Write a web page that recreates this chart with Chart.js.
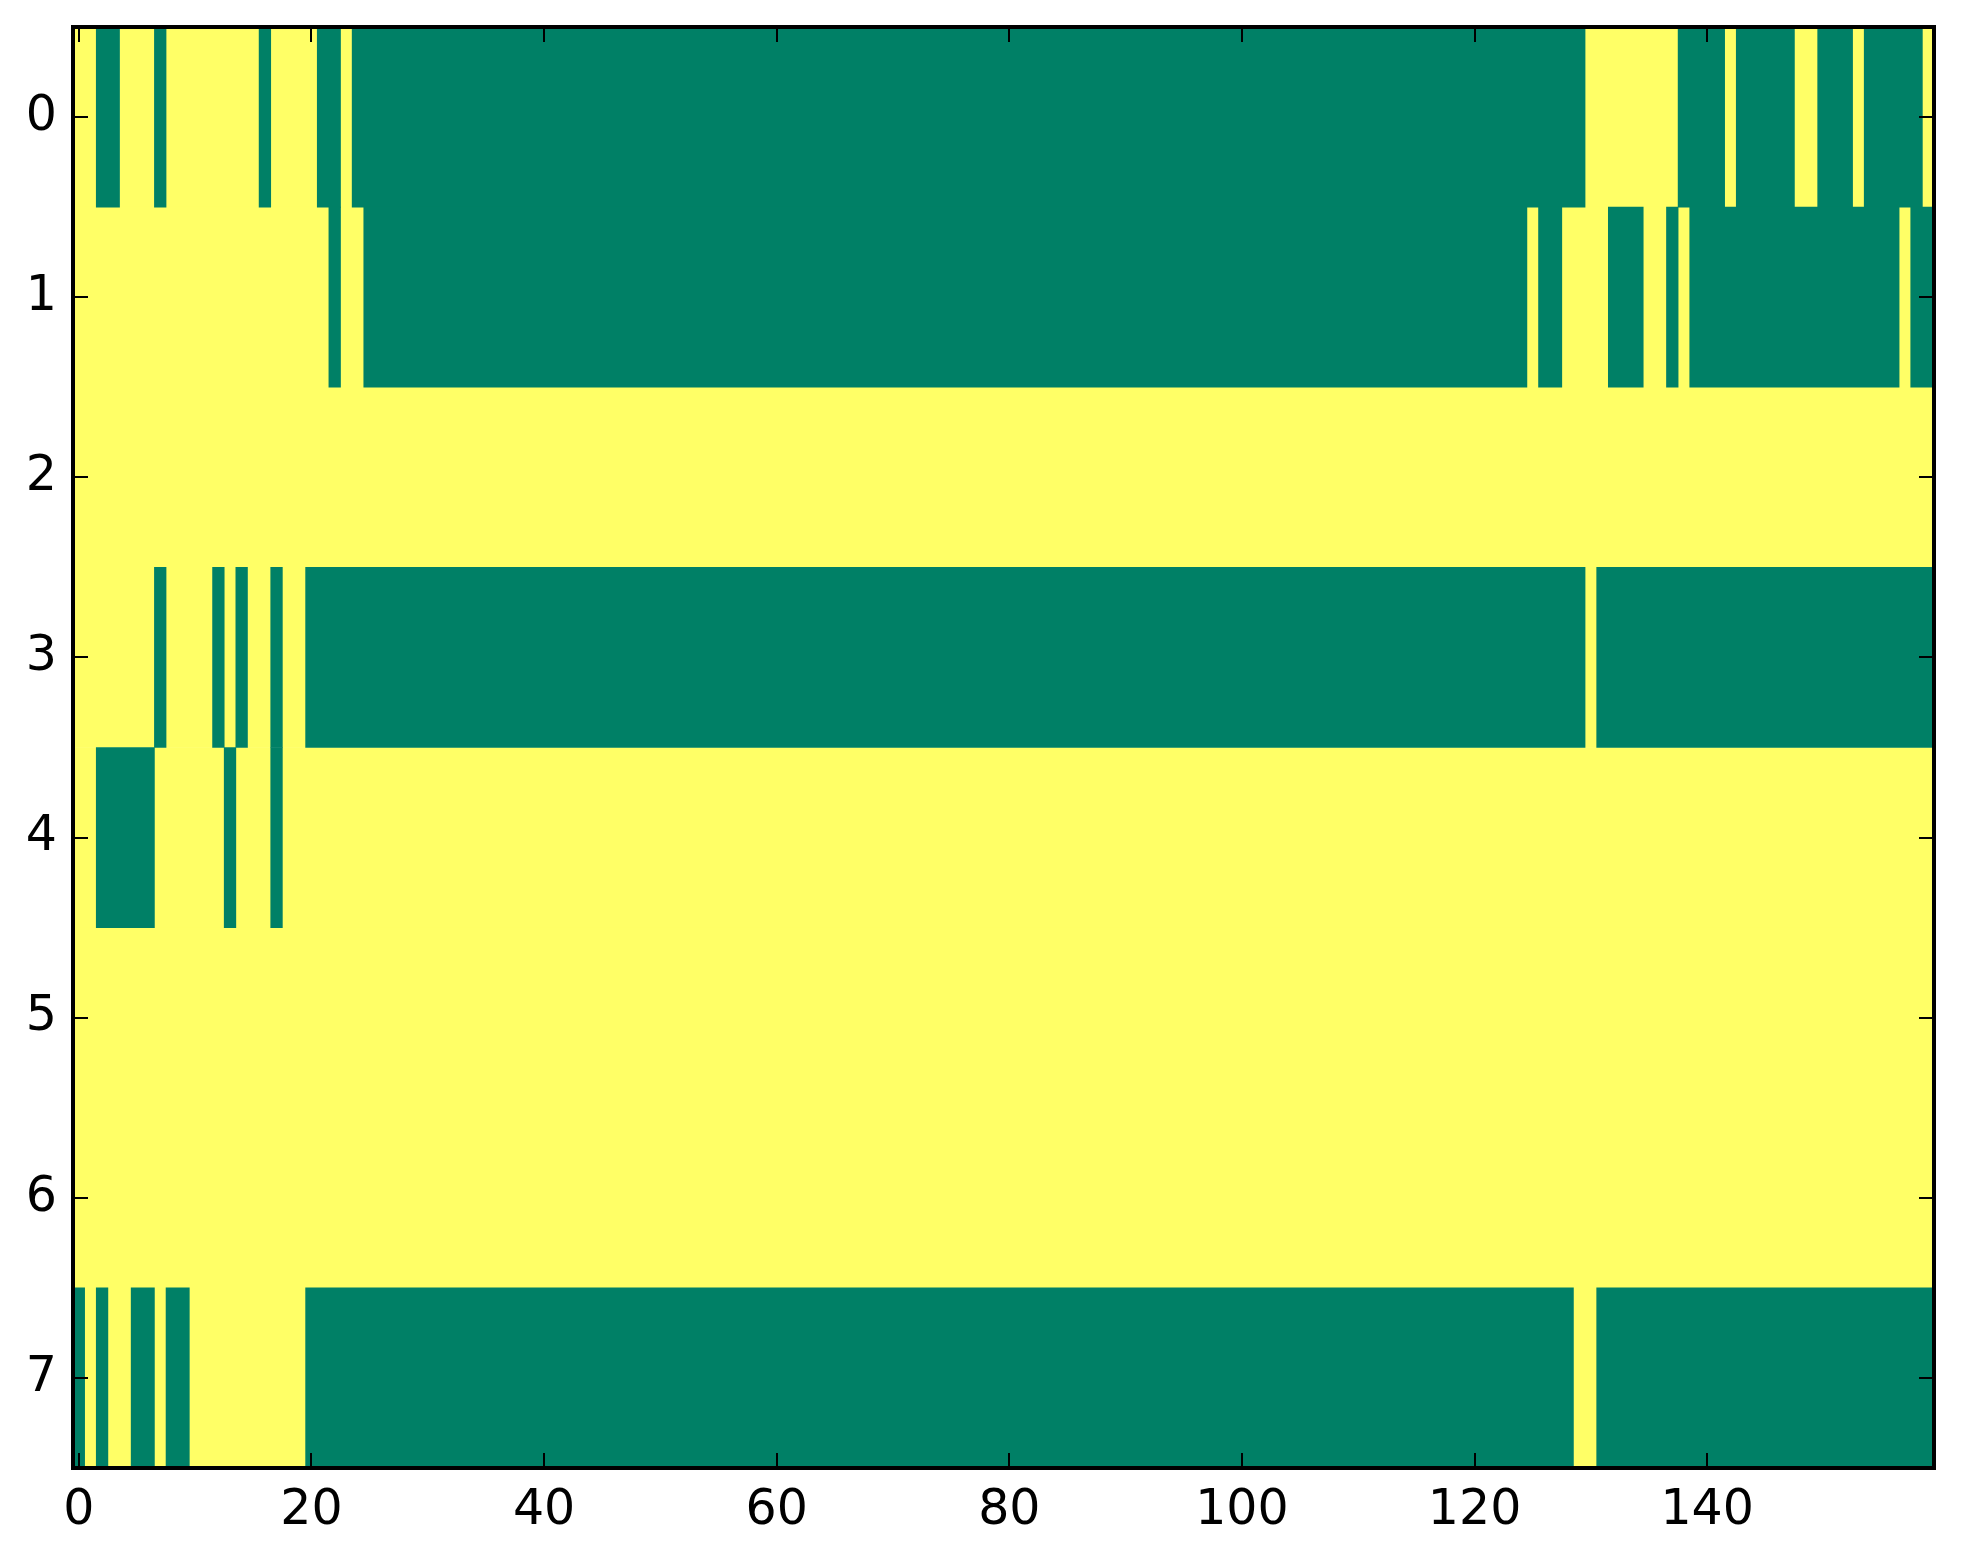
<!DOCTYPE html>
<html>
<head>
<meta charset="utf-8">
<script src="https://cdn.jsdelivr.net/npm/chart.js@4.4.1/dist/chart.umd.min.js"></script>
<style>
  html, body { margin: 0; padding: 0; background: #ffffff; }
  #wrap { width: 1963px; height: 1564px; }
</style>
</head>
<body>
<div id="wrap"><canvas id="grid"></canvas></div>
<script>
// image is 8 rows x 160 columns, two values only
const nCols = 160;
const rowLabels = ["0", "1", "2", "3", "4", "5", "6", "7"];
const xTicks = [0, 20, 40, 60, 80, 100, 120, 140];

// column ranges (inclusive) holding the low value (green) in each row
const row0 = [[2, 3], [7, 7], [16, 16], [21, 22], [24, 129], [138, 141], [143, 147], [150, 152], [154, 158]];
const row1 = [[22, 22], [25, 124], [126, 127], [132, 134], [137, 137], [139, 156], [158, 159]];
const row2 = [];
const row3 = [[7, 7], [12, 12], [14, 14], [17, 17], [20, 129], [131, 159]];
const row4 = [[2, 6], [13, 13], [17, 17]];
const row5 = [];
const row6 = [];
const row7 = [[0, 0], [2, 2], [5, 6], [8, 9], [20, 128], [131, 159]];
const rows = [row0, row1, row2, row3, row4, row5, row6, row7];

const lowColor = "#008066";
const highColor = "#ffff66";

// turn the runs into floating bars, filling the gaps with the high value
const lowCells = [];
const highCells = [];
rows.forEach((runs, r) => {
  let c = 0;
  runs.forEach(([a, b]) => {
    if (a > c) highCells.push({ y: rowLabels[r], x: [c - 0.5, a - 0.5] });
    lowCells.push({ y: rowLabels[r], x: [a - 0.5, b + 0.5] });
    c = b + 1;
  });
  if (c < nCols) highCells.push({ y: rowLabels[r], x: [c - 0.5, nCols - 0.5] });
});

// matplotlib look: black frame and inward ticks on all four sides
const frame = {
  id: "frame",
  afterDraw(chart) {
    const { ctx, chartArea: a, scales } = chart;
    const len = 15;
    ctx.save();
    ctx.strokeStyle = "#000";
    ctx.lineWidth = 2;
    ctx.beginPath();
    xTicks.forEach((v) => {
      const px = Math.round(scales.x.getPixelForValue(v));
      ctx.moveTo(px, a.bottom); ctx.lineTo(px, a.bottom - len);
      ctx.moveTo(px, a.top); ctx.lineTo(px, a.top + len);
    });
    rowLabels.forEach((lab, i) => {
      const py = Math.round(scales.y.getPixelForTick(i));
      ctx.moveTo(a.left, py); ctx.lineTo(a.left + len, py);
      ctx.moveTo(a.right, py); ctx.lineTo(a.right - len, py);
    });
    ctx.stroke();
    ctx.lineWidth = 4;
    ctx.strokeRect(a.left, a.top, a.right - a.left, a.bottom - a.top);
    ctx.restore();
  },
};

Chart.defaults.font.family = "DejaVu Sans";
Chart.defaults.font.size = 49;
Chart.defaults.color = "#000";

const ctx = document.getElementById("grid").getContext("2d");

new Chart(ctx, {
  type: "bar",
  data: {
    labels: rowLabels,
    datasets: [
      {
        label: "low",
        data: lowCells,
        backgroundColor: lowColor,
        borderWidth: 0,
        grouped: false,
        barPercentage: 1,
        categoryPercentage: 1,
        order: 0,
      },
      {
        label: "high",
        data: highCells,
        backgroundColor: highColor,
        borderWidth: 0,
        grouped: false,
        barPercentage: 1,
        categoryPercentage: 1,
        order: 1,
      },
    ],
  },
  options: {
    indexAxis: "y",
    responsive: true,
    maintainAspectRatio: false,
    devicePixelRatio: 1,
    animation: false,
    layout: { padding: { top: 27, right: 29, left: 0, bottom: 0 } },
    scales: {
      x: {
        type: "linear",
        min: -0.5,
        max: nCols - 0.5,
        grid: { display: false, drawTicks: false },
        border: { display: false },
        afterBuildTicks: (axis) => {
          axis.ticks = xTicks.map((v) => ({ value: v }));
        },
        afterFit: (axis) => {
          axis.height = 96;
          axis.paddingLeft = 0;
          axis.paddingRight = 0;
        },
        ticks: { padding: 14, maxRotation: 0, autoSkip: false },
      },
      y: {
        type: "category",
        grid: { display: false, drawTicks: false },
        border: { display: false },
        afterFit: (axis) => {
          axis.width = 73;
          axis.paddingTop = 0;
          axis.paddingBottom = 0;
        },
        ticks: { padding: 16 },
      },
    },
    plugins: {
      legend: { display: false },
      tooltip: { enabled: false },
    },
  },
  plugins: [frame],
});
</script>
</body>
</html>
